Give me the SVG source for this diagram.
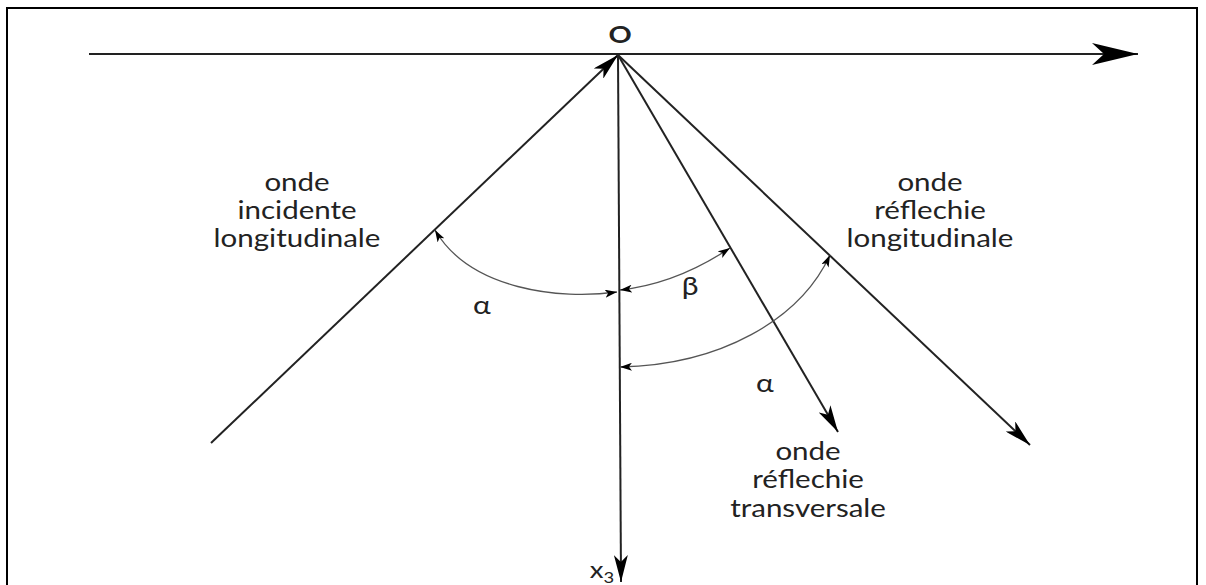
<svg xmlns="http://www.w3.org/2000/svg" width="1206" height="585" viewBox="0 0 1206 585">
<style>
.ln{stroke:#222;stroke-width:2;fill:none}
.arc{stroke:#555;stroke-width:1.3;fill:none}
.t{font-family:Lato,"Open Sans",sans-serif;font-size:25px;fill:#222;text-anchor:middle}
</style>
<defs>
<marker id="big" viewBox="0 0 46 22" refX="46" refY="11" markerWidth="46" markerHeight="22" markerUnits="userSpaceOnUse" orient="auto">
<path d="M0,0 L46,11 L0,22 L12,11 Z" fill="#000"/>
</marker>
<marker id="mid" viewBox="0 0 27 14" refX="27" refY="7" markerWidth="27" markerHeight="14" markerUnits="userSpaceOnUse" orient="auto">
<path d="M0,0 L27,7 L0,14 L7,7 Z" fill="#000"/>
</marker>
<marker id="sm" viewBox="0 0 12 8" refX="12" refY="4" markerWidth="12" markerHeight="8" markerUnits="userSpaceOnUse" orient="auto-start-reverse">
<path d="M0,0 L12,4 L0,8 L3,4 Z" fill="#000"/>
</marker>
</defs>
<rect x="0" y="0" width="1206" height="585" fill="#fff"/>
<rect x="7" y="8" width="1190" height="590" fill="none" stroke="#000" stroke-width="2"/>
<g id="connectors">
<line class="ln" x1="89" y1="54" x2="1138" y2="54" marker-end="url(#big)"/>
<line class="ln" x1="211" y1="443" x2="618" y2="55" marker-end="url(#mid)"/>
<line class="ln" x1="618" y1="55" x2="621" y2="582" marker-end="url(#mid)"/>
<line class="ln" x1="618" y1="55" x2="838" y2="432" marker-end="url(#mid)"/>
<line class="ln" x1="618" y1="55" x2="1030" y2="445" marker-end="url(#mid)"/>
<path class="arc" d="M435,230 C470,290 560,300 617,292" marker-start="url(#sm)" marker-end="url(#sm)"/>
<path class="arc" d="M620,290 C665,285 700,268 730,248" marker-start="url(#sm)" marker-end="url(#sm)"/>
<path class="arc" d="M620,367 C720,365 800,320 830,255" marker-start="url(#sm)" marker-end="url(#sm)"/>
</g>
<g id="origin" transform="translate(620,0) scale(1.25,1)"><text class="t" x="0" y="43" style="font-size:23px;font-weight:bold">O</text></g>
<g id="x3" transform="translate(602,0) scale(1.15,1)"><text class="t" x="0" y="578" style="font-size:24px">x<tspan font-size="16" dy="5">3</tspan></text></g>
<g id="incident" transform="translate(297,0) scale(1.18,1)"><text class="t" x="0" y="191">onde</text><text class="t" x="0" y="219">incidente</text><text class="t" x="0" y="247">longitudinale</text></g>
<g id="refl-long" transform="translate(930,0) scale(1.18,1)"><text class="t" x="0" y="191">onde</text><text class="t" x="0" y="219">réflechie</text><text class="t" x="0" y="247">longitudinale</text></g>
<g id="refl-trans" transform="translate(808,0) scale(1.18,1)"><text class="t" x="0" y="460">onde</text><text class="t" x="0" y="488">réflechie</text><text class="t" x="0" y="517">transversale</text></g>
<g id="angles">
<g transform="translate(482,0) scale(1.2,1)"><text class="t" x="0" y="314">α</text></g>
<g transform="translate(690,0) scale(1.2,1)"><text class="t" x="0" y="295">β</text></g>
<g transform="translate(765,0) scale(1.2,1)"><text class="t" x="0" y="392">α</text></g>
</g>
</svg>
